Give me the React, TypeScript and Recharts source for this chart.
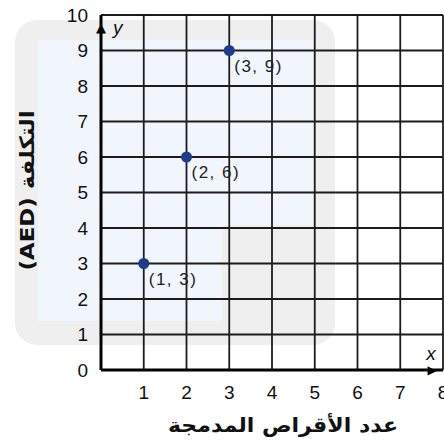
import React from "react";
import {
  CartesianGrid,
  ReferenceLine,
  Scatter,
  ScatterChart,
  XAxis,
  YAxis,
} from "recharts";

const xTicks = [0, 1, 2, 3, 4, 5, 6, 7, 8];
const yTicks = [0, 1, 2, 3, 4, 5, 6, 7, 8, 9, 10];
const points = [
  { x: 1, y: 3 },
  { x: 2, y: 6 },
  { x: 3, y: 9 },
];
const xTitle = "عدد الأقراص المدمجة";
const yTitle = "التكلفة (AED)";

const tickFont = { fontSize: 19, fill: "#111", fontFamily: "'Liberation Sans', Arial, sans-serif" };
const dotColor = "#1f3c8c";

function Dot(props: any) {
  const { cx, cy, payload } = props;
  return (
    <g>
      <circle cx={cx} cy={cy} r={5.5} fill={dotColor} />
      <text
        x={cx + 5}
        y={cy + 21}
        fontSize={17}
        letterSpacing={1.5}
        fill="#222"
        fontFamily="'Liberation Sans', Arial, sans-serif"
      >
        {`(${payload.x}, ${payload.y})`}
      </text>
    </g>
  );
}

function YTitle(props: any) {
  const { viewBox } = props;
  const cx = viewBox.x + 27;
  const cy = viewBox.y + viewBox.height / 2 - 2;
  return (
    <text
      x={cx}
      y={cy}
      transform={`rotate(-90, ${cx}, ${cy})`}
      textAnchor="middle"
      dominantBaseline="central"
      direction="rtl"
      fontSize={20}
      fontWeight="bold"
      fill="#111"
      fontFamily="'DejaVu Sans', sans-serif"
      textLength={160}
      lengthAdjust="spacingAndGlyphs"
    >
      {yTitle}
    </text>
  );
}

function XTitle(props: any) {
  const { viewBox } = props;
  return (
    <text
      x={viewBox.x + viewBox.width / 2 + 11}
      y={viewBox.y + 62}
      textAnchor="middle"
      direction="rtl"
      fontSize={20}
      fontWeight="bold"
      fill="#111"
      fontFamily="'DejaVu Sans', sans-serif"
      textLength={230}
      lengthAdjust="spacingAndGlyphs"
    >
      {xTitle}
    </text>
  );
}

// "y" letter plus arrow head near the top of the vertical axis
function YLetter(props: any) {
  const { viewBox } = props;
  return (
    <g>
      <text
        x={viewBox.x}
        y={viewBox.y + 12}
        textAnchor="middle"
        dominantBaseline="central"
        fontSize={13}
        fill="#000"
        fontFamily="'DejaVu Sans', sans-serif"
      >
        ▲
      </text>
      <text
        x={viewBox.x + 12}
        y={viewBox.y + 19}
        fontSize={19}
        fontStyle="italic"
        fill="#111"
        fontFamily="'Liberation Sans', Arial, sans-serif"
      >
        y
      </text>
    </g>
  );
}

// "x" letter plus arrow head near the right end of the horizontal axis
function XLetter(props: any) {
  const { viewBox } = props;
  const end = viewBox.x + viewBox.width;
  return (
    <g>
      <text
        x={end - 11}
        y={viewBox.y}
        textAnchor="middle"
        dominantBaseline="central"
        fontSize={12}
        fill="#000"
        fontFamily="'DejaVu Sans', sans-serif"
      >
        ▶
      </text>
      <text
        x={end - 12}
        y={viewBox.y - 10}
        textAnchor="middle"
        fontSize={19}
        fontStyle="italic"
        fill="#111"
        fontFamily="'Liberation Sans', Arial, sans-serif"
      >
        x
      </text>
    </g>
  );
}

export default function App() {
  return (
    <div
      style={{
        position: "absolute",
        top: 0,
        left: 0,
        width: 444,
        height: 443,
        overflow: "hidden",
        background: "#fff",
      }}
    >
      {/* faint watermark behind the chart */}
      <div
        style={{
          position: "absolute",
          left: 15,
          top: 20,
          width: 320,
          height: 325,
          borderRadius: 22,
          background: "#efeff0",
        }}
      />
      <div
        style={{
          position: "absolute",
          left: 38,
          top: 40,
          width: 275,
          height: 185,
          background: "#f1f5fc",
        }}
      />
      <div
        style={{
          position: "absolute",
          left: 38,
          top: 225,
          width: 184,
          height: 96,
          background: "#f1f5fc",
        }}
      />
      <div style={{ position: "absolute", top: 0, left: 0 }}>
        <ScatterChart
          width={460}
          height={443}
          margin={{ top: 15, right: 17, left: 0, bottom: 0 }}
        >
          <CartesianGrid stroke="#1c1c1c" strokeWidth={1.8} />
          <XAxis
            type="number"
            dataKey="x"
            domain={[0, 8]}
            ticks={xTicks}
            tickFormatter={(v: number) => (v === 0 ? "" : String(v))}
            tick={tickFont}
            tickLine={false}
            tickSize={0}
            tickMargin={16}
            height={73}
            axisLine={{ stroke: "#000", strokeWidth: 3 }}
            label={(p: any) => <XTitle {...p} />}
          />
          <YAxis
            type="number"
            dataKey="y"
            domain={[0, 10]}
            ticks={yTicks}
            tick={tickFont}
            tickLine={false}
            tickSize={0}
            tickMargin={13}
            width={101}
            axisLine={{ stroke: "#000", strokeWidth: 3 }}
            label={(p: any) => <YTitle {...p} />}
          />
          <ReferenceLine x={0} strokeOpacity={0} label={(p: any) => <YLetter {...p} />} />
          <ReferenceLine y={0} strokeOpacity={0} label={(p: any) => <XLetter {...p} />} />
          <Scatter data={points} shape={(p: any) => <Dot {...p} />} isAnimationActive={false} />
        </ScatterChart>
      </div>
    </div>
  );
}
